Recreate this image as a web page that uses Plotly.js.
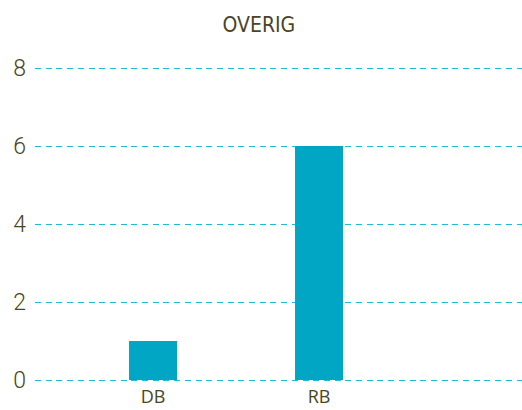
<!DOCTYPE html>
<html><head><meta charset="utf-8">
<script src="https://cdn.plot.ly/plotly-3.0.1.min.js"></script>
<style>body{margin:0;padding:0;background:#fff}#chart{width:522px;height:410px}</style>
</head><body><div id="chart"></div>
<script>
const categories = ["DB", "RB"];
const values = [1, 6];
const yTicks = [0, 2, 4, 6, 8];

Plotly.newPlot("chart", [{
  type: "bar",
  x: categories,
  y: values,
  width: 0.289,
  marker: {color: "#00a6c4"},
  hoverinfo: "none"
}], {
  width: 522, height: 410,
  margin: {l: 35, r: 0, t: 66, b: 28},
  paper_bgcolor: "#fff", plot_bgcolor: "#fff",
  title: {text: "OVERIG", x: 0.496, xanchor: "center", y: 0.94, yanchor: "middle",
    font: {family: "DejaVu Sans Condensed, Roboto, sans-serif", size: 21, color: "#4a4526"}},
  xaxis: {type: "category", range: [-0.711, 2.223], showgrid: false, zeroline: false,
    showline: false, ticks: "", ticklabelstandoff: 2,
    tickfont: {family: "Open Sans", size: 18, color: "#4a4526"}},
  yaxis: {range: [-0.0513, 8.0513], tickvals: yTicks, showgrid: true, gridcolor: "#1fbcd6",
    griddash: "6px,4.7px", gridwidth: 1, zeroline: false, showline: false, ticks: "",
    ticklabelstandoff: 8,
    tickfont: {family: "Roboto", size: 23, weight: 300, color: "#4a4526"}},
  showlegend: false
}, {displayModeBar: false, staticPlot: true});
</script></body></html>
